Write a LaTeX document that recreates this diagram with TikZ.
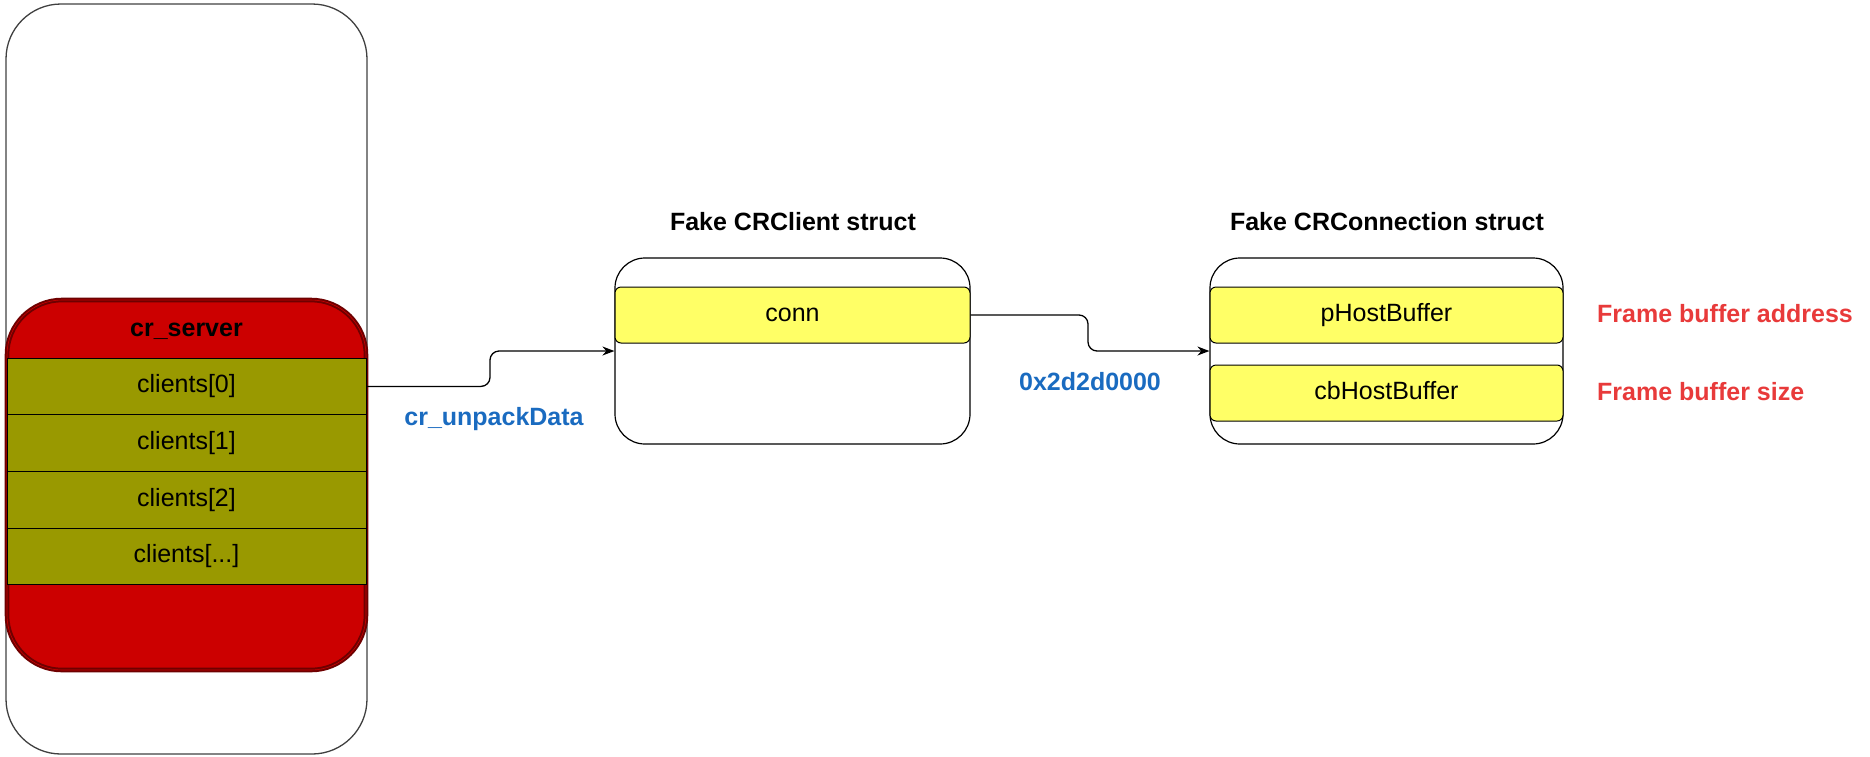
\documentclass[tikz,border=0pt]{standalone}
\usepackage{fontspec}
\setmainfont{Liberation Sans}
\usetikzlibrary{arrows.meta}
\definecolor{srvred}{HTML}{CC0000}
\definecolor{srvedge}{HTML}{6E0000}
\definecolor{olive}{HTML}{999900}
\definecolor{yel}{HTML}{FFFF66}
\definecolor{lblue}{HTML}{1A6BC0}
\definecolor{lred}{HTML}{E83A3A}
\begin{document}
\begin{tikzpicture}[x=1pt,y=-1pt,
  every node/.style={font=\fontsize{25}{30}\selectfont, inner sep=0pt, text height=1.25em, text depth=0em},
  outerbox/.style={draw=black!75, line width=1.3pt, rounded corners=55pt, rectangle, minimum width=361pt, minimum height=750pt},
  srvbox/.style={draw=srvedge, fill=srvred, line width=2pt, double=srvred, rounded corners=55pt, rectangle, minimum width=359pt, minimum height=370pt},
  rowbox/.style={draw=black, fill=olive, line width=1pt, rectangle, minimum width=359pt, minimum height=56.75pt},
  structbox/.style={draw=black, line width=1.2pt, rounded corners=30pt, rectangle},
  field/.style={draw=black, fill=yel, line width=1pt, rounded corners=6pt, rectangle, minimum height=56pt},
  title/.style={font=\fontsize{25}{30}\selectfont\bfseries},
  bluelbl/.style={font=\fontsize{25}{30}\selectfont\bfseries, text=lblue},
  redlbl/.style={font=\fontsize{25}{30}\selectfont\bfseries, text=lred, anchor=west},
  arr/.style={draw=black, line width=1.3pt, rounded corners=9pt, -{Stealth[length=12pt,width=9pt]}}
]
\useasboundingbox (0,0) rectangle (1870,756);
% left column
\node[outerbox] (outer) at (186.5,379) {};
\node[srvbox] (srv) at (186.5,485) {};
\node[title] (srvtitle) at (186.5,330) {cr\_server};
\node[rowbox] (row0) at (186.5,386.4) {clients[0]};
\node[rowbox] (row1) at (186.5,443.1) {clients[1]};
\node[rowbox] (row2) at (186.5,499.9) {clients[2]};
\node[rowbox] (row3) at (186.5,556.6) {clients[...]};
% CRClient
\node[title] (t1) at (793,224) {Fake CRClient struct};
\node[structbox, minimum width=355pt, minimum height=186pt] (client) at (792.5,351) {};
\node[field, minimum width=355pt] (conn) at (792.5,315) {conn};
% CRConnection
\node[title] (t2) at (1387,224) {Fake CRConnection struct};
\node[structbox, minimum width=353pt, minimum height=186pt] (cconn) at (1386.5,351) {};
\node[field, minimum width=353pt] (phb) at (1386.5,315) {pHostBuffer};
\node[field, minimum width=353pt] (cbhb) at (1386.5,393) {cbHostBuffer};
\node[redlbl] (fba) at (1597,316) {Frame buffer address};
\node[redlbl] (fbs) at (1597,394) {Frame buffer size};
% connectors
\coordinate (k1) at (490,386.4);
\draw[arr] (row0.east) -- (k1) |- (client.west);
\node[bluelbl] (l1) at (494,419) {cr\_unpackData};
\coordinate (k2) at (1088,315);
\draw[arr] (conn.east) -- (k2) |- (cconn.west);
\node[bluelbl] (l2) at (1090,384) {0x2d2d0000};
\end{tikzpicture}
\end{document}
